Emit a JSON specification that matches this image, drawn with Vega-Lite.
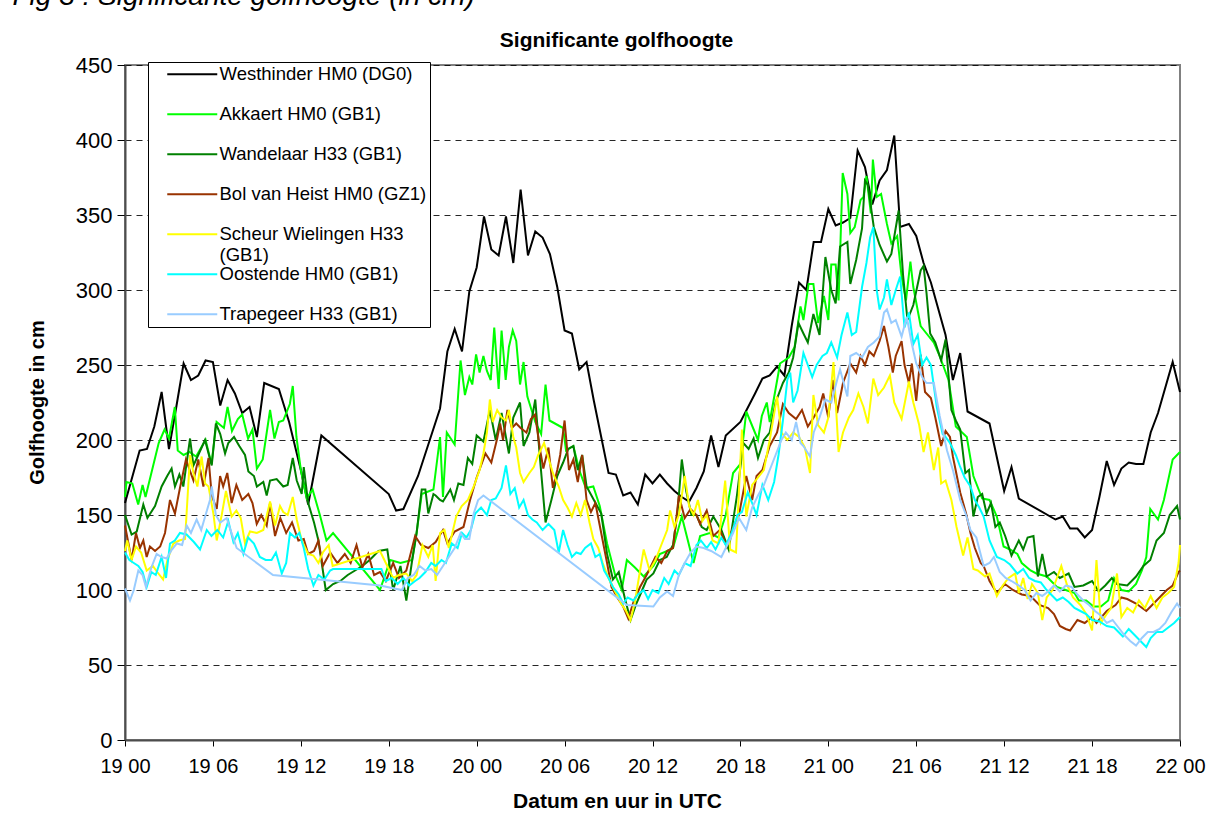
{
"$schema": "https://vega.github.io/schema/vega-lite/v6.json",
"width": 1055, "height": 675, "autosize": "none",
"padding": {"left": 125, "top": 65, "right": 33, "bottom": 88},
"background": "white",
"datasets": {
"W": [{"h":0,"v":158},{"h":1,"v":193},{"h":1.5,"v":194},{"h":2,"v":209},{"h":2.5,"v":232},{"h":3,"v":194},{"h":3.5,"v":222},{"h":4,"v":251},{"h":4.5,"v":240},{"h":5,"v":243},{"h":5.5,"v":253},{"h":6,"v":252},{"h":6.5,"v":223},{"h":7,"v":240},{"h":7.5,"v":231},{"h":8,"v":218},{"h":8.5,"v":222},{"h":9,"v":202},{"h":9.5,"v":238},{"h":10.5,"v":234},{"h":11.2,"v":212},{"h":12,"v":180},{"h":12.5,"v":157},{"h":13.4,"v":203},{"h":18,"v":164},{"h":18.5,"v":153},{"h":19,"v":154},{"h":20,"v":176},{"h":20.8,"v":200},{"h":21.5,"v":221},{"h":22,"v":259},{"h":22.5,"v":274},{"h":23,"v":259},{"h":23.5,"v":299},{"h":24,"v":315},{"h":24.5,"v":349},{"h":25,"v":327},{"h":25.5,"v":323},{"h":26,"v":349},{"h":26.5,"v":318},{"h":27,"v":367},{"h":27.5,"v":323},{"h":28,"v":339},{"h":28.5,"v":335},{"h":29,"v":324},{"h":29.5,"v":302},{"h":30,"v":273},{"h":30.5,"v":271},{"h":31,"v":247},{"h":31.5,"v":252},{"h":32,"v":226},{"h":32.5,"v":202},{"h":33,"v":178},{"h":33.5,"v":177},{"h":34,"v":163},{"h":34.5,"v":165},{"h":35,"v":157},{"h":35.5,"v":177},{"h":36,"v":171},{"h":36.5,"v":177},{"h":37,"v":171},{"h":37.5,"v":166},{"h":38,"v":162},{"h":38.5,"v":159},{"h":39,"v":168},{"h":39.5,"v":179},{"h":40,"v":203},{"h":40.5,"v":182},{"h":41,"v":203},{"h":42,"v":212},{"h":43,"v":231},{"h":43.5,"v":241},{"h":44,"v":243},{"h":44.5,"v":249},{"h":45,"v":243},{"h":45.5,"v":276},{"h":46,"v":305},{"h":46.5,"v":300},{"h":47,"v":332},{"h":47.5,"v":332},{"h":48,"v":354},{"h":48.5,"v":343},{"h":49,"v":345},{"h":49.5,"v":348},{"h":50,"v":393},{"h":50.5,"v":382},{"h":51,"v":357},{"h":51.5,"v":373},{"h":52,"v":380},{"h":52.5,"v":403},{"h":52.9,"v":342},{"h":53.5,"v":344},{"h":54,"v":336},{"h":54.5,"v":318},{"h":55,"v":305},{"h":56,"v":270},{"h":56.5,"v":240},{"h":57,"v":258},{"h":57.5,"v":219},{"h":59,"v":211},{"h":60,"v":166},{"h":60.5,"v":182},{"h":61,"v":161},{"h":63.5,"v":147},{"h":64,"v":149},{"h":64.5,"v":141},{"h":65,"v":141},{"h":65.5,"v":135},{"h":66,"v":140},{"h":66.5,"v":162},{"h":67,"v":186},{"h":67.5,"v":170},{"h":68,"v":181},{"h":68.5,"v":185},{"h":69,"v":184},{"h":69.5,"v":184},{"h":70,"v":205},{"h":70.5,"v":218},{"h":71.5,"v":252},{"h":72,"v":232}],
"A": [{"h":0,"v":162},{"h":0.1,"v":172},{"h":0.5,"v":171},{"h":0.9,"v":157},{"h":1.2,"v":170},{"h":1.4,"v":162},{"h":1.8,"v":178},{"h":2.3,"v":198},{"h":2.7,"v":207},{"h":3,"v":201},{"h":3.4,"v":222},{"h":3.6,"v":193},{"h":4,"v":190},{"h":4.4,"v":192},{"h":4.85,"v":189},{"h":5.5,"v":200},{"h":5.9,"v":184},{"h":6.25,"v":212},{"h":6.75,"v":208},{"h":7,"v":222},{"h":7.3,"v":206},{"h":7.7,"v":214},{"h":8,"v":217},{"h":8.4,"v":201},{"h":8.7,"v":207},{"h":9,"v":181},{"h":9.4,"v":187},{"h":9.9,"v":220},{"h":10.2,"v":201},{"h":10.5,"v":212},{"h":10.8,"v":213},{"h":11.25,"v":224},{"h":11.45,"v":236},{"h":11.7,"v":202},{"h":12,"v":180},{"h":12.4,"v":161},{"h":12.8,"v":167},{"h":13.3,"v":150},{"h":13.75,"v":133},{"h":14.2,"v":138},{"h":17.4,"v":100},{"h":18.1,"v":120},{"h":18.8,"v":118},{"h":19.6,"v":120},{"h":19.9,"v":138},{"h":20.25,"v":164},{"h":21.05,"v":167},{"h":21.5,"v":202},{"h":21.7,"v":162},{"h":21.96,"v":205},{"h":22.5,"v":197},{"h":22.9,"v":253},{"h":23.2,"v":230},{"h":23.5,"v":242},{"h":23.7,"v":237},{"h":23.96,"v":257},{"h":24.2,"v":245},{"h":24.46,"v":256},{"h":24.7,"v":246},{"h":24.96,"v":240},{"h":25.2,"v":275},{"h":25.5,"v":234},{"h":25.7,"v":273},{"h":25.98,"v":240},{"h":26.2,"v":262},{"h":26.46,"v":273},{"h":26.7,"v":266},{"h":26.96,"v":237},{"h":27.2,"v":252},{"h":27.46,"v":229},{"h":28,"v":212},{"h":28.4,"v":204},{"h":28.7,"v":237},{"h":28.97,"v":213},{"h":29.9,"v":208},{"h":30.1,"v":193},{"h":30.6,"v":196},{"h":31,"v":180},{"h":31.45,"v":168},{"h":31.96,"v":169},{"h":32.4,"v":156},{"h":32.9,"v":131},{"h":33.45,"v":110},{"h":33.9,"v":100},{"h":34.25,"v":120},{"h":34.8,"v":115},{"h":35.4,"v":109},{"h":36.06,"v":116},{"h":36.5,"v":124},{"h":37,"v":126},{"h":37.4,"v":128},{"h":38,"v":149},{"h":38.8,"v":118},{"h":39.25,"v":136},{"h":39.9,"v":138},{"h":40.5,"v":135},{"h":41,"v":150},{"h":41.5,"v":178},{"h":42,"v":184},{"h":42.4,"v":219},{"h":43.2,"v":200},{"h":43.46,"v":216},{"h":43.8,"v":225},{"h":44,"v":212},{"h":44.6,"v":245},{"h":44.7,"v":251},{"h":45.3,"v":255},{"h":45.7,"v":262},{"h":46.1,"v":289},{"h":46.3,"v":280},{"h":46.65,"v":304},{"h":46.98,"v":304},{"h":47.3,"v":278},{"h":47.7,"v":296},{"h":48,"v":280},{"h":48.2,"v":317},{"h":48.5,"v":317},{"h":48.7,"v":293},{"h":48.98,"v":378},{"h":49.3,"v":364},{"h":49.5,"v":338},{"h":49.8,"v":342},{"h":50.2,"v":360},{"h":50.4,"v":362},{"h":50.6,"v":376},{"h":50.9,"v":351},{"h":51.04,"v":387},{"h":51.3,"v":362},{"h":51.6,"v":364},{"h":52,"v":344},{"h":52.3,"v":331},{"h":52.7,"v":336},{"h":53,"v":309},{"h":53.3,"v":293},{"h":53.6,"v":319},{"h":53.8,"v":302},{"h":54.3,"v":276},{"h":54.7,"v":271},{"h":55.2,"v":265},{"h":55.6,"v":256},{"h":56.2,"v":240},{"h":56.7,"v":209},{"h":57.45,"v":202},{"h":57.9,"v":176},{"h":58.5,"v":161},{"h":59,"v":160},{"h":59.5,"v":149},{"h":59.96,"v":129},{"h":60.4,"v":127},{"h":60.9,"v":124},{"h":61.2,"v":118},{"h":61.8,"v":113},{"h":62.2,"v":111},{"h":62.9,"v":109},{"h":63.6,"v":102},{"h":64.2,"v":100},{"h":64.8,"v":98},{"h":65.1,"v":93},{"h":65.6,"v":93},{"h":66.1,"v":89},{"h":66.6,"v":89},{"h":67.1,"v":93},{"h":67.5,"v":108},{"h":68,"v":100},{"h":68.5,"v":99},{"h":69,"v":104},{"h":69.4,"v":113},{"h":69.7,"v":122},{"h":69.97,"v":154},{"h":70.5,"v":147},{"h":70.9,"v":160},{"h":71.5,"v":187},{"h":72,"v":192}],
"Wa": [{"h":0,"v":150},{"h":0.45,"v":137},{"h":0.8,"v":139},{"h":1.25,"v":157},{"h":1.53,"v":148},{"h":2.05,"v":156},{"h":2.5,"v":169},{"h":2.88,"v":176},{"h":3.18,"v":181},{"h":3.41,"v":169},{"h":3.71,"v":177},{"h":3.98,"v":169},{"h":4.44,"v":201},{"h":4.67,"v":183},{"h":5,"v":190},{"h":5.46,"v":200},{"h":5.92,"v":183},{"h":6.2,"v":211},{"h":6.5,"v":204},{"h":6.83,"v":191},{"h":7.05,"v":198},{"h":7.44,"v":202},{"h":7.8,"v":196},{"h":8.19,"v":190},{"h":8.42,"v":179},{"h":8.8,"v":176},{"h":9,"v":169},{"h":9.44,"v":172},{"h":9.67,"v":163},{"h":9.9,"v":173},{"h":10.35,"v":174},{"h":10.8,"v":169},{"h":11.1,"v":170},{"h":11.45,"v":188},{"h":11.72,"v":173},{"h":12.06,"v":164},{"h":12.2,"v":182},{"h":12.5,"v":158},{"h":12.9,"v":145},{"h":13.2,"v":133},{"h":13.7,"v":100},{"h":14.2,"v":104},{"h":14.7,"v":106},{"h":15.2,"v":110},{"h":15.7,"v":113},{"h":16.2,"v":116},{"h":16.7,"v":120},{"h":17.3,"v":126},{"h":17.9,"v":127},{"h":18.3,"v":100},{"h":18.8,"v":116},{"h":19.2,"v":93},{"h":19.6,"v":120},{"h":19.9,"v":138},{"h":20.25,"v":167},{"h":20.5,"v":167},{"h":20.7,"v":151},{"h":21.05,"v":164},{"h":21.2,"v":163},{"h":21.5,"v":160},{"h":21.7,"v":159},{"h":22.2,"v":167},{"h":22.45,"v":160},{"h":22.75,"v":171},{"h":23.1,"v":170},{"h":23.4,"v":188},{"h":23.7,"v":184},{"h":24,"v":203},{"h":24.46,"v":199},{"h":24.9,"v":220},{"h":25.3,"v":200},{"h":25.7,"v":218},{"h":26.2,"v":191},{"h":26.5,"v":215},{"h":26.96,"v":225},{"h":27.2,"v":196},{"h":27.6,"v":205},{"h":28,"v":227},{"h":28.3,"v":190},{"h":28.7,"v":145},{"h":29.1,"v":160},{"h":29.5,"v":176},{"h":29.9,"v":185},{"h":30.25,"v":194},{"h":30.6,"v":196},{"h":30.9,"v":180},{"h":31.2,"v":190},{"h":31.5,"v":169},{"h":32,"v":160},{"h":32.5,"v":151},{"h":32.9,"v":124},{"h":33.3,"v":107},{"h":33.7,"v":112},{"h":34.1,"v":95},{"h":34.5,"v":80},{"h":34.9,"v":91},{"h":35.3,"v":100},{"h":35.6,"v":107},{"h":36.06,"v":111},{"h":36.5,"v":120},{"h":36.97,"v":122},{"h":37.4,"v":130},{"h":37.7,"v":151},{"h":38,"v":187},{"h":38.3,"v":166},{"h":38.66,"v":150},{"h":39,"v":150},{"h":39.36,"v":142},{"h":39.7,"v":140},{"h":40.15,"v":149},{"h":40.7,"v":140},{"h":41.2,"v":127},{"h":41.75,"v":162},{"h":42.2,"v":198},{"h":42.56,"v":194},{"h":42.9,"v":201},{"h":43.2,"v":188},{"h":43.6,"v":200},{"h":44,"v":205},{"h":44.4,"v":225},{"h":44.9,"v":238},{"h":45.3,"v":245},{"h":45.6,"v":255},{"h":45.96,"v":278},{"h":46.3,"v":271},{"h":46.6,"v":265},{"h":46.98,"v":284},{"h":47.4,"v":270},{"h":47.8,"v":322},{"h":48,"v":311},{"h":48.2,"v":300},{"h":48.5,"v":291},{"h":48.8,"v":329},{"h":49.3,"v":332},{"h":49.5,"v":304},{"h":49.9,"v":320},{"h":50.3,"v":341},{"h":50.5,"v":373},{"h":50.7,"v":370},{"h":51.1,"v":342},{"h":51.5,"v":330},{"h":52,"v":319},{"h":52.3,"v":324},{"h":52.8,"v":353},{"h":53.1,"v":310},{"h":53.4,"v":280},{"h":53.8,"v":290},{"h":54.3,"v":313},{"h":54.5,"v":316},{"h":54.7,"v":298},{"h":54.95,"v":271},{"h":55.3,"v":265},{"h":55.7,"v":253},{"h":56,"v":267},{"h":56.4,"v":220},{"h":56.7,"v":213},{"h":57,"v":207},{"h":57.35,"v":178},{"h":57.6,"v":180},{"h":57.9,"v":149},{"h":58.2,"v":162},{"h":58.5,"v":164},{"h":58.8,"v":151},{"h":59.1,"v":158},{"h":59.4,"v":142},{"h":59.7,"v":145},{"h":60.07,"v":136},{"h":60.5,"v":123},{"h":61,"v":133},{"h":61.3,"v":127},{"h":61.6,"v":135},{"h":62,"v":136},{"h":62.3,"v":109},{"h":62.6,"v":124},{"h":62.9,"v":109},{"h":63.4,"v":112},{"h":63.8,"v":108},{"h":64.4,"v":111},{"h":64.8,"v":102},{"h":65.4,"v":103},{"h":66,"v":106},{"h":66.45,"v":99},{"h":66.9,"v":103},{"h":67.35,"v":108},{"h":67.7,"v":104},{"h":68.4,"v":103},{"h":69,"v":109},{"h":69.5,"v":116},{"h":69.97,"v":120},{"h":70.4,"v":133},{"h":70.9,"v":138},{"h":71.3,"v":150},{"h":71.8,"v":156},{"h":72,"v":147}],
"B": [{"h":0,"v":143},{"h":0.45,"v":120},{"h":0.75,"v":138},{"h":1.02,"v":128},{"h":1.25,"v":133},{"h":1.48,"v":122},{"h":1.7,"v":129},{"h":2.05,"v":126},{"h":2.4,"v":129},{"h":2.73,"v":138},{"h":3.07,"v":160},{"h":3.41,"v":151},{"h":3.75,"v":168},{"h":4.16,"v":187},{"h":4.67,"v":173},{"h":5,"v":187},{"h":5.35,"v":169},{"h":5.7,"v":188},{"h":5.92,"v":163},{"h":6.26,"v":154},{"h":6.49,"v":176},{"h":6.7,"v":169},{"h":6.98,"v":178},{"h":7.28,"v":158},{"h":7.6,"v":170},{"h":8,"v":160},{"h":8.42,"v":164},{"h":8.7,"v":158},{"h":8.99,"v":144},{"h":9.3,"v":150},{"h":9.67,"v":143},{"h":9.9,"v":158},{"h":10.24,"v":136},{"h":10.6,"v":148},{"h":11,"v":138},{"h":11.4,"v":145},{"h":11.83,"v":133},{"h":12.2,"v":134},{"h":12.5,"v":124},{"h":12.9,"v":126},{"h":13.2,"v":133},{"h":13.5,"v":116},{"h":14,"v":125},{"h":14.5,"v":118},{"h":15,"v":124},{"h":15.4,"v":118},{"h":15.8,"v":130},{"h":16.2,"v":115},{"h":16.6,"v":124},{"h":17,"v":110},{"h":17.4,"v":112},{"h":17.8,"v":106},{"h":18.3,"v":118},{"h":18.7,"v":108},{"h":19.2,"v":113},{"h":19.8,"v":136},{"h":20.2,"v":130},{"h":20.7,"v":128},{"h":21.2,"v":132},{"h":21.7,"v":140},{"h":22,"v":131},{"h":22.5,"v":139},{"h":23.1,"v":142},{"h":23.55,"v":160},{"h":24,"v":175},{"h":24.6,"v":191},{"h":25,"v":185},{"h":25.4,"v":201},{"h":25.6,"v":211},{"h":25.8,"v":200},{"h":26.1,"v":220},{"h":26.4,"v":208},{"h":26.7,"v":211},{"h":27,"v":208},{"h":27.4,"v":205},{"h":27.7,"v":214},{"h":27.99,"v":217},{"h":28.3,"v":195},{"h":28.55,"v":181},{"h":28.9,"v":195},{"h":29.2,"v":168},{"h":29.5,"v":180},{"h":29.7,"v":190},{"h":30,"v":213},{"h":30.3,"v":180},{"h":30.6,"v":187},{"h":30.9,"v":172},{"h":31.2,"v":190},{"h":31.5,"v":160},{"h":31.8,"v":152},{"h":32.1,"v":158},{"h":32.5,"v":138},{"h":32.9,"v":118},{"h":33.2,"v":102},{"h":33.6,"v":95},{"h":34,"v":89},{"h":34.35,"v":81},{"h":34.7,"v":92},{"h":35.15,"v":102},{"h":35.6,"v":110},{"h":36.2,"v":122},{"h":36.6,"v":118},{"h":37,"v":126},{"h":37.4,"v":128},{"h":37.8,"v":163},{"h":38.2,"v":148},{"h":38.6,"v":154},{"h":39,"v":150},{"h":39.25,"v":144},{"h":39.7,"v":153},{"h":40.15,"v":136},{"h":40.6,"v":140},{"h":41.06,"v":129},{"h":41.5,"v":142},{"h":41.9,"v":150},{"h":42.4,"v":176},{"h":42.8,"v":160},{"h":43.1,"v":176},{"h":43.5,"v":180},{"h":44,"v":196},{"h":44.5,"v":205},{"h":44.9,"v":224},{"h":45.3,"v":218},{"h":45.8,"v":214},{"h":46.2,"v":220},{"h":46.6,"v":209},{"h":47,"v":215},{"h":47.4,"v":222},{"h":47.65,"v":231},{"h":48,"v":215},{"h":48.3,"v":240},{"h":48.6,"v":218},{"h":49,"v":238},{"h":49.5,"v":251},{"h":49.9,"v":245},{"h":50.2,"v":256},{"h":50.5,"v":250},{"h":50.8,"v":259},{"h":51.1,"v":256},{"h":51.5,"v":266},{"h":51.8,"v":276},{"h":52.1,"v":262},{"h":52.4,"v":245},{"h":52.6,"v":256},{"h":53,"v":266},{"h":53.2,"v":250},{"h":53.5,"v":238},{"h":53.7,"v":251},{"h":54,"v":226},{"h":54.3,"v":257},{"h":54.6,"v":232},{"h":55,"v":228},{"h":55.3,"v":215},{"h":55.7,"v":196},{"h":56,"v":206},{"h":56.3,"v":202},{"h":56.5,"v":189},{"h":57,"v":165},{"h":57.4,"v":151},{"h":57.7,"v":138},{"h":58,"v":128},{"h":58.4,"v":118},{"h":58.6,"v":116},{"h":59,"v":106},{"h":59.5,"v":98},{"h":60.05,"v":104},{"h":60.6,"v":100},{"h":61.2,"v":97},{"h":61.8,"v":96},{"h":62.4,"v":90},{"h":63,"v":88},{"h":63.4,"v":84},{"h":63.8,"v":76},{"h":64.2,"v":74},{"h":64.5,"v":73},{"h":65,"v":80},{"h":65.5,"v":78},{"h":66,"v":82},{"h":66.3,"v":78},{"h":67,"v":86},{"h":67.6,"v":90},{"h":68,"v":95},{"h":68.4,"v":94},{"h":69,"v":91},{"h":69.7,"v":86},{"h":70.4,"v":93},{"h":71.1,"v":100},{"h":71.5,"v":103},{"h":71.9,"v":112},{"h":72,"v":113}],
"S": [{"h":0,"v":126},{"h":0.15,"v":133},{"h":0.45,"v":120},{"h":0.75,"v":129},{"h":1.1,"v":125},{"h":1.48,"v":113},{"h":1.9,"v":116},{"h":2.2,"v":112},{"h":2.6,"v":107},{"h":2.9,"v":120},{"h":3.3,"v":131},{"h":3.7,"v":133},{"h":4.1,"v":134},{"h":4.44,"v":190},{"h":4.67,"v":178},{"h":4.94,"v":169},{"h":5.23,"v":189},{"h":5.46,"v":171},{"h":5.7,"v":169},{"h":6.03,"v":151},{"h":6.26,"v":133},{"h":6.6,"v":150},{"h":6.89,"v":166},{"h":7.28,"v":149},{"h":7.6,"v":153},{"h":7.9,"v":148},{"h":8.19,"v":131},{"h":8.53,"v":139},{"h":9,"v":138},{"h":9.44,"v":140},{"h":9.9,"v":159},{"h":10.24,"v":143},{"h":10.58,"v":156},{"h":10.8,"v":152},{"h":11.1,"v":150},{"h":11.45,"v":162},{"h":11.72,"v":147},{"h":12.06,"v":133},{"h":12.5,"v":124},{"h":12.86,"v":123},{"h":13.2,"v":118},{"h":13.5,"v":125},{"h":13.9,"v":130},{"h":14.17,"v":116},{"h":17.4,"v":126},{"h":17.9,"v":116},{"h":18.3,"v":108},{"h":18.7,"v":110},{"h":19.2,"v":111},{"h":19.6,"v":106},{"h":19.9,"v":110},{"h":20.3,"v":130},{"h":20.7,"v":122},{"h":21,"v":130},{"h":21.2,"v":106},{"h":21.5,"v":138},{"h":21.8,"v":140},{"h":22.1,"v":128},{"h":22.6,"v":149},{"h":22.98,"v":156},{"h":23.4,"v":160},{"h":23.8,"v":169},{"h":24.2,"v":180},{"h":24.46,"v":191},{"h":24.7,"v":205},{"h":24.9,"v":227},{"h":25.1,"v":212},{"h":25.4,"v":220},{"h":25.7,"v":215},{"h":26,"v":213},{"h":26.2,"v":220},{"h":26.5,"v":202},{"h":26.7,"v":195},{"h":26.96,"v":178},{"h":27.2,"v":172},{"h":27.6,"v":178},{"h":27.9,"v":182},{"h":28.2,"v":190},{"h":28.6,"v":198},{"h":28.9,"v":188},{"h":29.2,"v":178},{"h":29.6,"v":169},{"h":29.9,"v":160},{"h":30.2,"v":155},{"h":30.5,"v":149},{"h":30.8,"v":158},{"h":31.1,"v":150},{"h":31.4,"v":160},{"h":31.7,"v":145},{"h":31.96,"v":134},{"h":32.3,"v":128},{"h":32.6,"v":118},{"h":33,"v":108},{"h":33.4,"v":100},{"h":33.8,"v":92},{"h":34.2,"v":86},{"h":34.5,"v":80},{"h":34.8,"v":92},{"h":35.1,"v":110},{"h":35.4,"v":127},{"h":35.8,"v":113},{"h":36.2,"v":120},{"h":36.6,"v":130},{"h":37,"v":140},{"h":37.2,"v":153},{"h":37.5,"v":142},{"h":37.8,"v":150},{"h":38.2,"v":176},{"h":38.5,"v":156},{"h":38.8,"v":150},{"h":39.1,"v":160},{"h":39.4,"v":146},{"h":39.7,"v":150},{"h":40.1,"v":133},{"h":40.5,"v":131},{"h":40.96,"v":173},{"h":41.3,"v":127},{"h":41.7,"v":125},{"h":42.1,"v":207},{"h":42.4,"v":149},{"h":42.8,"v":170},{"h":43.2,"v":175},{"h":43.6,"v":180},{"h":44,"v":200},{"h":44.5,"v":229},{"h":44.8,"v":205},{"h":45.2,"v":200},{"h":45.6,"v":205},{"h":46,"v":202},{"h":46.4,"v":195},{"h":46.75,"v":178},{"h":46.98,"v":230},{"h":47.3,"v":210},{"h":47.7,"v":205},{"h":48,"v":215},{"h":48.35,"v":252},{"h":48.7,"v":192},{"h":49,"v":205},{"h":49.4,"v":215},{"h":49.7,"v":220},{"h":50.05,"v":231},{"h":50.4,"v":222},{"h":50.7,"v":211},{"h":51.07,"v":241},{"h":51.4,"v":230},{"h":51.8,"v":235},{"h":52.2,"v":243},{"h":52.5,"v":225},{"h":53,"v":214},{"h":53.5,"v":239},{"h":53.8,"v":225},{"h":54.2,"v":210},{"h":54.5,"v":192},{"h":54.8,"v":205},{"h":55.2,"v":180},{"h":55.5,"v":195},{"h":55.7,"v":171},{"h":56,"v":173},{"h":56.4,"v":160},{"h":56.75,"v":142},{"h":57.2,"v":123},{"h":57.5,"v":135},{"h":57.9,"v":114},{"h":58.2,"v":113},{"h":58.7,"v":109},{"h":59,"v":111},{"h":59.5,"v":96},{"h":59.9,"v":103},{"h":60.3,"v":108},{"h":60.75,"v":111},{"h":61,"v":98},{"h":61.3,"v":108},{"h":61.6,"v":94},{"h":61.9,"v":104},{"h":62.3,"v":98},{"h":62.6,"v":80},{"h":62.9,"v":95},{"h":63.3,"v":100},{"h":63.9,"v":116},{"h":64.3,"v":103},{"h":64.7,"v":95},{"h":65.2,"v":90},{"h":65.6,"v":84},{"h":66,"v":73},{"h":66.3,"v":120},{"h":66.6,"v":78},{"h":67,"v":84},{"h":67.3,"v":88},{"h":67.7,"v":111},{"h":68,"v":82},{"h":68.4,"v":88},{"h":68.8,"v":85},{"h":69.2,"v":93},{"h":69.6,"v":88},{"h":70,"v":96},{"h":70.4,"v":88},{"h":70.8,"v":95},{"h":71.2,"v":98},{"h":71.6,"v":102},{"h":71.9,"v":118},{"h":72,"v":130}],
"O": [{"h":0,"v":125},{"h":0.3,"v":120},{"h":0.6,"v":118},{"h":0.91,"v":116},{"h":1.2,"v":112},{"h":1.48,"v":102},{"h":1.8,"v":112},{"h":2.1,"v":110},{"h":2.5,"v":122},{"h":2.8,"v":108},{"h":3.07,"v":131},{"h":3.4,"v":133},{"h":3.75,"v":138},{"h":4.2,"v":137},{"h":4.7,"v":132},{"h":5.12,"v":127},{"h":5.58,"v":140},{"h":5.9,"v":136},{"h":6.3,"v":140},{"h":6.7,"v":135},{"h":7.05,"v":146},{"h":7.4,"v":132},{"h":7.7,"v":138},{"h":8.08,"v":124},{"h":8.4,"v":135},{"h":8.8,"v":131},{"h":9.2,"v":122},{"h":9.6,"v":120},{"h":10,"v":120},{"h":10.3,"v":125},{"h":10.7,"v":111},{"h":11,"v":118},{"h":11.26,"v":138},{"h":11.6,"v":135},{"h":11.9,"v":138},{"h":12.2,"v":128},{"h":12.5,"v":114},{"h":12.86,"v":103},{"h":13.2,"v":110},{"h":13.6,"v":107},{"h":14,"v":113},{"h":14.2,"v":114},{"h":17.5,"v":114},{"h":17.8,"v":106},{"h":18.2,"v":108},{"h":18.6,"v":104},{"h":19,"v":108},{"h":19.4,"v":103},{"h":19.8,"v":106},{"h":20.1,"v":108},{"h":20.5,"v":112},{"h":20.9,"v":118},{"h":21.2,"v":116},{"h":21.6,"v":120},{"h":21.9,"v":118},{"h":22.3,"v":131},{"h":22.7,"v":128},{"h":23,"v":138},{"h":23.3,"v":135},{"h":23.6,"v":140},{"h":23.9,"v":151},{"h":24.3,"v":155},{"h":24.7,"v":150},{"h":25,"v":160},{"h":25.3,"v":161},{"h":25.7,"v":168},{"h":26,"v":183},{"h":26.3,"v":164},{"h":26.6,"v":168},{"h":26.9,"v":155},{"h":27.2,"v":160},{"h":27.5,"v":150},{"h":27.8,"v":147},{"h":28.1,"v":145},{"h":28.5,"v":140},{"h":28.9,"v":144},{"h":29.3,"v":140},{"h":29.6,"v":125},{"h":29.9,"v":140},{"h":30.2,"v":130},{"h":30.5,"v":122},{"h":30.8,"v":125},{"h":31.1,"v":124},{"h":31.4,"v":128},{"h":31.8,"v":131},{"h":32.1,"v":122},{"h":32.4,"v":124},{"h":32.7,"v":113},{"h":33,"v":108},{"h":33.3,"v":102},{"h":33.7,"v":97},{"h":34,"v":91},{"h":34.3,"v":95},{"h":34.7,"v":93},{"h":35,"v":97},{"h":35.4,"v":100},{"h":35.7,"v":94},{"h":36,"v":100},{"h":36.4,"v":98},{"h":36.8,"v":108},{"h":37.1,"v":104},{"h":37.5,"v":113},{"h":37.8,"v":110},{"h":38.2,"v":118},{"h":38.6,"v":116},{"h":39,"v":130},{"h":39.3,"v":133},{"h":39.7,"v":128},{"h":40,"v":132},{"h":40.3,"v":127},{"h":40.7,"v":135},{"h":41,"v":130},{"h":41.4,"v":138},{"h":41.8,"v":150},{"h":42.1,"v":152},{"h":42.5,"v":165},{"h":42.8,"v":158},{"h":43.1,"v":150},{"h":43.5,"v":170},{"h":43.9,"v":160},{"h":44.3,"v":172},{"h":44.6,"v":190},{"h":44.9,"v":213},{"h":45.2,"v":240},{"h":45.4,"v":245},{"h":45.6,"v":225},{"h":45.9,"v":233},{"h":46.3,"v":258},{"h":46.6,"v":250},{"h":46.9,"v":242},{"h":47.2,"v":250},{"h":47.6,"v":256},{"h":47.9,"v":258},{"h":48.2,"v":265},{"h":48.6,"v":255},{"h":48.9,"v":270},{"h":49.3,"v":285},{"h":49.6,"v":270},{"h":49.9,"v":272},{"h":50.3,"v":302},{"h":50.6,"v":318},{"h":50.85,"v":335},{"h":51.07,"v":342},{"h":51.3,"v":300},{"h":51.5,"v":287},{"h":51.8,"v":295},{"h":52,"v":307},{"h":52.3,"v":290},{"h":52.6,"v":300},{"h":52.9,"v":309},{"h":53.2,"v":275},{"h":53.5,"v":285},{"h":53.8,"v":264},{"h":54.1,"v":270},{"h":54.4,"v":250},{"h":54.7,"v":255},{"h":55,"v":250},{"h":55.4,"v":222},{"h":55.8,"v":204},{"h":56,"v":202},{"h":56.3,"v":198},{"h":56.7,"v":190},{"h":57,"v":182},{"h":57.3,"v":175},{"h":57.7,"v":169},{"h":58,"v":160},{"h":58.3,"v":155},{"h":58.6,"v":149},{"h":59,"v":133},{"h":59.5,"v":122},{"h":60,"v":120},{"h":60.4,"v":117},{"h":60.9,"v":111},{"h":61.3,"v":114},{"h":61.7,"v":108},{"h":62.1,"v":106},{"h":62.5,"v":105},{"h":62.9,"v":100},{"h":63.3,"v":96},{"h":63.6,"v":93},{"h":64,"v":95},{"h":64.4,"v":92},{"h":64.8,"v":88},{"h":65.2,"v":86},{"h":65.6,"v":84},{"h":66,"v":80},{"h":66.5,"v":79},{"h":67,"v":76},{"h":67.5,"v":75},{"h":68.1,"v":69},{"h":68.5,"v":74},{"h":68.9,"v":70},{"h":69.3,"v":66},{"h":69.7,"v":62},{"h":70,"v":68},{"h":70.4,"v":72},{"h":70.8,"v":72},{"h":71.2,"v":75},{"h":71.6,"v":78},{"h":72,"v":82}],
"T": [{"h":0,"v":101},{"h":0.34,"v":93},{"h":0.6,"v":100},{"h":0.91,"v":113},{"h":1.2,"v":110},{"h":1.43,"v":102},{"h":1.8,"v":115},{"h":2.16,"v":124},{"h":2.5,"v":122},{"h":2.84,"v":121},{"h":3.2,"v":127},{"h":3.53,"v":131},{"h":3.9,"v":130},{"h":4.21,"v":143},{"h":4.5,"v":138},{"h":4.89,"v":147},{"h":5.2,"v":140},{"h":5.5,"v":150},{"h":5.8,"v":160},{"h":5.92,"v":169},{"h":6.2,"v":150},{"h":6.5,"v":145},{"h":6.94,"v":148},{"h":7.2,"v":140},{"h":7.62,"v":128},{"h":10.1,"v":110},{"h":17.4,"v":103},{"h":18.9,"v":100},{"h":19.3,"v":108},{"h":19.7,"v":110},{"h":20.1,"v":116},{"h":20.5,"v":113},{"h":20.9,"v":114},{"h":21.3,"v":110},{"h":21.7,"v":116},{"h":22.1,"v":122},{"h":22.5,"v":128},{"h":22.9,"v":138},{"h":23.2,"v":134},{"h":23.5,"v":134},{"h":23.8,"v":151},{"h":24.1,"v":160},{"h":24.46,"v":163},{"h":34.25,"v":90},{"h":36.06,"v":89},{"h":36.5,"v":95},{"h":37,"v":99},{"h":37.4,"v":96},{"h":37.8,"v":110},{"h":38.2,"v":118},{"h":38.6,"v":125},{"h":39,"v":129},{"h":39.5,"v":128},{"h":40,"v":126},{"h":40.7,"v":122},{"h":41.1,"v":130},{"h":41.5,"v":138},{"h":41.9,"v":148},{"h":42.4,"v":140},{"h":42.8,"v":155},{"h":43.2,"v":163},{"h":43.6,"v":170},{"h":44,"v":180},{"h":44.4,"v":190},{"h":44.8,"v":200},{"h":45.1,"v":205},{"h":45.5,"v":200},{"h":45.8,"v":212},{"h":46.1,"v":198},{"h":46.3,"v":196},{"h":46.75,"v":189},{"h":47,"v":205},{"h":47.4,"v":215},{"h":47.8,"v":227},{"h":48.2,"v":225},{"h":48.6,"v":240},{"h":48.8,"v":247},{"h":49.3,"v":229},{"h":49.5,"v":256},{"h":49.9,"v":258},{"h":50.3,"v":255},{"h":50.7,"v":262},{"h":51.1,"v":265},{"h":51.5,"v":269},{"h":51.8,"v":285},{"h":52,"v":287},{"h":52.3,"v":278},{"h":52.6,"v":280},{"h":53,"v":269},{"h":53.35,"v":282},{"h":53.7,"v":264},{"h":54,"v":251},{"h":54.4,"v":242},{"h":54.7,"v":238},{"h":55.2,"v":238},{"h":55.6,"v":216},{"h":56.1,"v":193},{"h":56.5,"v":180},{"h":57,"v":160},{"h":57.4,"v":150},{"h":57.7,"v":140},{"h":58.1,"v":135},{"h":58.6,"v":116},{"h":59,"v":118},{"h":59.3,"v":122},{"h":59.7,"v":112},{"h":60.1,"v":108},{"h":60.5,"v":106},{"h":61,"v":103},{"h":61.4,"v":100},{"h":61.8,"v":93},{"h":62.2,"v":98},{"h":62.6,"v":96},{"h":63,"v":99},{"h":63.4,"v":103},{"h":63.8,"v":99},{"h":64.2,"v":103},{"h":64.6,"v":102},{"h":65,"v":97},{"h":65.4,"v":93},{"h":65.8,"v":90},{"h":66.2,"v":86},{"h":66.6,"v":83},{"h":67,"v":78},{"h":67.4,"v":80},{"h":67.8,"v":75},{"h":68.2,"v":70},{"h":68.6,"v":66},{"h":69,"v":63},{"h":69.4,"v":68},{"h":69.8,"v":72},{"h":70.2,"v":72},{"h":70.6,"v":74},{"h":71,"v":78},{"h":71.4,"v":85},{"h":71.8,"v":91},{"h":72,"v":88}]
},
"resolve": {"axis": {"x": "independent", "y": "independent"}},
"layer": [
 {
  "data": {"name": "W"},
  "mark": {"type": "line", "strokeWidth": 2},
  "encoding": {
   "x": {"field": "h", "type": "quantitative", "scale": {"domain": [0, 72], "nice": false, "zero": false},
         "axis": {"orient": "top", "labels": false, "ticks": false, "domain": false, "grid": false, "title": "Significante golfhoogte", "titleFontSize": 21, "titleFontWeight": "bold", "titleX": 491, "titleY": -25, "titleAlign": "center", "titleBaseline": "middle", "titleAngle": 0}},
   "y": {"field": "v", "type": "quantitative", "scale": {"domain": [0, 450], "nice": false},
         "axis": {"orient": "left", "title": "Golfhoogte in cm", "titleX": -88, "titleY": 337, "titleAngle": 270, "titleAlign": "center", "titleBaseline": "middle"}},
   "color": {"datum": "Westhinder HM0 (DG0)", "type": "nominal",
     "scale": {"domain": ["Westhinder HM0 (DG0)", "Akkaert HM0 (GB1)", "Wandelaar H33 (GB1)", "Bol van Heist HM0 (GZ1)", "Scheur Wielingen H33 (GB1)", "Oostende HM0 (GB1)", "Trapegeer H33 (GB1)"],
               "range": ["#000000", "#00FF00", "#008000", "#993300", "#FFFF00", "#00FFFF", "#99CCFF"]},
     "legend": {"orient": "none", "legendX": 23, "legendY": -3, "title": null, "direction": "vertical",
       "labelExpr": "datum.label == 'Scheur Wielingen H33 (GB1)' ? ['Scheur Wielingen H33', '(GB1)'] : datum.label == 'Trapegeer H33 (GB1)' ? datum.label : datum.label == 'Bol van Heist HM0 (GZ1)' ? [datum.label + '\u00a0\u00a0\u00a0', ''] : [datum.label, '']"}}
  }
 },
 {
  "encoding": {
   "x": {"field": "h", "type": "quantitative", "scale": {"domain": [0, 72], "nice": false, "zero": false},
         "axis": {"orient": "bottom", "values": [0, 6, 12, 18, 24, 30, 36, 42, 48, 54, 60, 66, 72],
                  "labelExpr": "(19 + floor(datum.value / 24)) + ' ' + ((datum.value % 24) < 10 ? '0' : '') + (datum.value % 24)",
                  "title": "Datum en uur in UTC", "titleX": 492, "titleY": 61, "titleAlign": "center", "titleBaseline": "middle", "titleFontSize": 21}},
   "y": {"field": "v", "type": "quantitative", "scale": {"domain": [0, 450], "nice": false},
         "axis": {"orient": "right", "labels": false, "ticks": false, "domain": false, "grid": false,
                  "title": "Fig 3 : Significante golfhoogte (in cm)", "titleFontSize": 28, "titleFontStyle": "italic", "titleFontWeight": "normal",
                  "titleX": -1168, "titleY": -60.5, "titleAngle": 0, "titleAlign": "left", "titleBaseline": "alphabetic"}}
  },
  "layer": [
   {"data": {"name": "A"}, "mark": {"type": "line", "strokeWidth": 2}, "encoding": {"color": {"datum": "Akkaert HM0 (GB1)", "type": "nominal"}}},
   {"data": {"name": "Wa"}, "mark": {"type": "line", "strokeWidth": 2}, "encoding": {"color": {"datum": "Wandelaar H33 (GB1)", "type": "nominal"}}},
   {"data": {"name": "B"}, "mark": {"type": "line", "strokeWidth": 2}, "encoding": {"color": {"datum": "Bol van Heist HM0 (GZ1)", "type": "nominal"}}},
   {"data": {"name": "S"}, "mark": {"type": "line", "strokeWidth": 2}, "encoding": {"color": {"datum": "Scheur Wielingen H33 (GB1)", "type": "nominal"}}},
   {"data": {"name": "O"}, "mark": {"type": "line", "strokeWidth": 2}, "encoding": {"color": {"datum": "Oostende HM0 (GB1)", "type": "nominal"}}},
   {"data": {"name": "T"}, "mark": {"type": "line", "strokeWidth": 2}, "encoding": {"color": {"datum": "Trapegeer H33 (GB1)", "type": "nominal"}}}
  ]
 }
],
"config": {
 "font": "Liberation Sans",
 "view": {"stroke": "#808080", "strokeWidth": 2},
 "axis": {"labelFont": "Liberation Sans", "titleFont": "Liberation Sans", "labelColor": "#000", "titleColor": "#000", "titleFontWeight": "bold", "titleFontSize": 20,
          "grid": true, "gridColor": "#000", "gridDash": [6, 5], "gridWidth": 1, "gridOpacity": 0.85,
          "domainColor": "#4d4d4d", "domainWidth": 2, "tickColor": "#000", "tickWidth": 1},
 "axisY": {"labelFontSize": 22, "tickSize": 8, "labelPadding": 5, "tickCount": 10},
 "axisX": {"labelFontSize": 20, "tickSize": 6, "labelPadding": 10, "labelFont": "Liberation Sans Narrow, Liberation Sans", "labelFlush": false},
 "legend": {"symbolType": "M-5,0H5", "symbolSize": 100, "symbolStrokeWidth": 2, "labelFontSize": 18.5, "labelFont": "Liberation Sans", "labelColor": "#000", "labelLimit": 400,
            "strokeColor": "#000", "fillColor": "#fff", "padding": 3, "rowPadding": 0, "labelOffset": 18, "symbolOffset": 32}
}
}
